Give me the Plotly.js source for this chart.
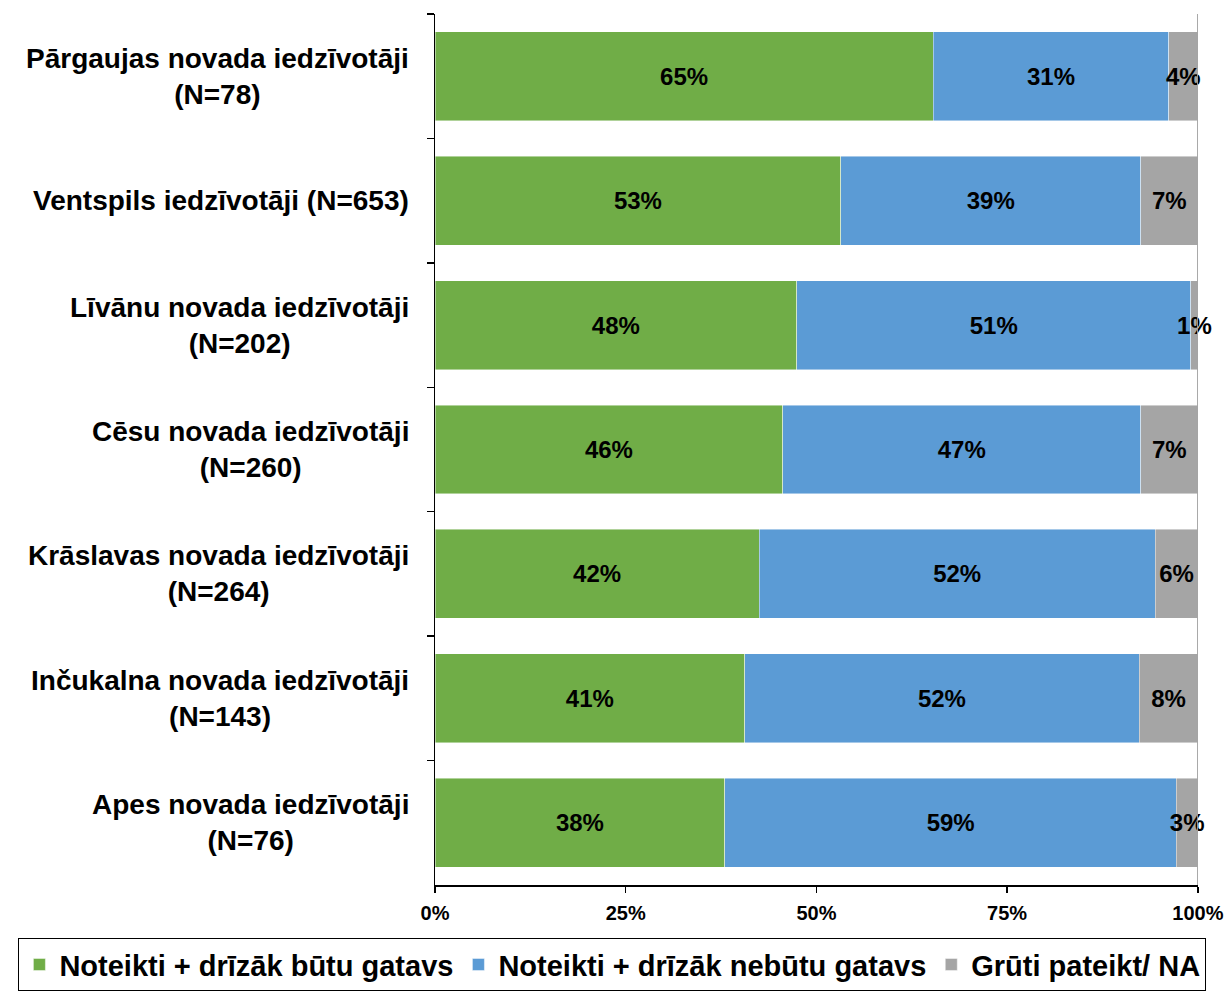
<!DOCTYPE html>
<html>
<head>
<meta charset="utf-8">
<script src="https://cdn.plot.ly/plotly-3.0.1.min.js"></script>
<style>html,body{margin:0;padding:0;background:#fff;}#chart{width:1229px;height:994px;}</style>
</head>
<body>
<div id="chart"></div>
<script>
const categories = [
  'Pārgaujas novada iedzīvotāji<br>(N=78)',
  'Ventspils iedzīvotāji (N=653)',
  'Līvānu novada iedzīvotāji<br>(N=202)',
  'Cēsu novada iedzīvotāji<br>(N=260)',
  'Krāslavas novada iedzīvotāji<br>(N=264)',
  'Inčukalna novada iedzīvotāji<br>(N=143)',
  'Apes novada iedzīvotāji<br>(N=76)'
];
const seriesNames = ['Noteikti + drīzāk būtu gatavs', 'Noteikti + drīzāk nebūtu gatavs', 'Grūti pateikt/ NA'];
const ready    = [65.3, 53.2, 47.4, 45.6, 42.5, 40.6, 38.0];
const notReady = [30.9, 39.3, 51.7, 46.9, 51.9, 51.7, 59.2];
const hardToSay= [3.8, 7.5, 0.9, 7.5, 5.6, 7.7, 2.8];
const readyLabels    = ['65%', '53%', '48%', '46%', '42%', '41%', '38%'];
const notReadyLabels = ['31%', '39%', '51%', '47%', '52%', '52%', '59%'];
const hardLabels     = ['4%', '7%', '1%', '7%', '6%', '8%', '3%'];
const xTickVals = [0, 25, 50, 75, 100];
const xTickText = ['0%', '25%', '50%', '75%', '100%'];
const colors = ['#70AD47', '#5B9BD5', '#A5A5A5'];

const font = 'Liberation Sans, Arial, sans-serif';
const values = [ready, notReady, hardToSay];
const labels = [readyLabels, notReadyLabels, hardLabels];

const traces = values.map((v, i) => ({
  type: 'bar',
  orientation: 'h',
  name: seriesNames[i],
  y: categories,
  x: v,
  text: labels[i],
  textposition: 'inside',
  insidetextanchor: 'middle',
  textangle: 0,
  constraintext: 'none',
  cliponaxis: false,
  textfont: {family: font, size: 24, color: '#000', weight: 'bold'},
  marker: {color: colors[i], line: {color: 'rgba(255,255,255,0.6)', width: 0.75}},
  hoverinfo: 'none'
}));

const annotations = categories.map(c => ({
  xref: 'paper', yref: 'y', x: 0, y: c,
  xanchor: 'right', yanchor: 'middle', xshift: -24,
  text: '<b>' + c + '</b>', showarrow: false, align: 'center',
  font: {family: font, size: 28, color: '#000'}
}));

const layout = {
  width: 1229, height: 994,
  margin: {l: 435, r: 31, t: 14, b: 109, autoexpand: false},
  barmode: 'stack',
  bargap: 0.285,
  paper_bgcolor: '#fff', plot_bgcolor: '#fff',
  showlegend: true,
  legend: {
    orientation: 'h', x: -0.546, xanchor: 'left',
    y: -0.061, yanchor: 'top',
    font: {family: font, size: 29, color: '#000', weight: 'bold'},
    bordercolor: '#000', borderwidth: 1, traceorder: 'normal'
  },
  xaxis: {
    range: [0, 100.02], tickvals: xTickVals, ticktext: xTickText,
    showgrid: false, zeroline: false, showline: true, linecolor: '#000', linewidth: 1.5,
    ticks: 'outside', ticklen: 6, tickcolor: '#000', tickwidth: 1.5,
    ticklabelstandoff: 3,
    tickfont: {family: font, size: 20, color: '#000', weight: 'bold'}
  },
  yaxis: {
    type: 'category', autorange: 'reversed', showticklabels: false,
    showgrid: false, zeroline: false, showline: true, linecolor: '#000', linewidth: 1.5,
    ticks: 'outside', tickson: 'boundaries', ticklen: 7, tickcolor: '#000', tickwidth: 1.5
  },
  shapes: [{type: 'line', xref: 'x', yref: 'paper', x0: 100, x1: 100, y0: 0, y1: 1,
            line: {color: '#A0A0A0', width: 1.5}}],
  annotations: annotations
};

Plotly.newPlot('chart', traces, layout, {displayModeBar: false, staticPlot: true});
</script>
</body>
</html>
